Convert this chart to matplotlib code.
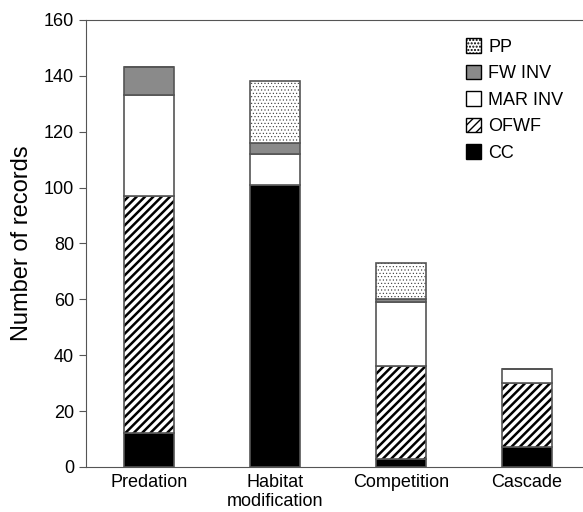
import numpy as np
import matplotlib.pyplot as plt
import matplotlib.patches as mpatches

plt.rcParams['font.family'] = ['Liberation Sans', 'DejaVu Sans']

# stacked counts per interaction type
categories = ['Predation', 'Habitat\nmodification', 'Competition', 'Cascade']
cc = [12, 101, 3, 7]
ofwf = [85, 0, 33, 23]
mar_inv = [36, 11, 23, 5]
fw_inv = [10, 4, 1, 0]
pp = [0, 22, 13, 0]

fig = plt.figure(figsize=(5.83, 5.12), dpi=100)
ax = fig.add_axes([0.1475, 0.088, 0.86, 0.873])

x = np.arange(len(categories))
w = 0.4
edge = '#555555'
bottom = np.zeros(len(categories))

# name, values, face, hatch, hatch colour, hatch linewidth
layers = [
    ('CC', cc, 'black', None, None, 1.0),
    ('OFWF', ofwf, 'white', '////', 'black', 1.8),
    ('MAR INV', mar_inv, 'white', None, None, 1.0),
    ('FW INV', fw_inv, '#8a8a8a', None, None, 1.0),
    ('PP', pp, 'white', '.....', '#333333', 0.4),
]
handles = []
for name, vals, col, hatch, hcol, hlw in layers:
    vals = np.array(vals, dtype=float)
    with plt.rc_context({'hatch.linewidth': hlw}):
        if hatch:
            # hatch in dark colour, outline drawn on top in grey
            ax.bar(x, vals, w, bottom=bottom, color=col, edgecolor=hcol,
                   linewidth=0, hatch=hatch)
            ax.bar(x, vals, w, bottom=bottom, fill=False, edgecolor=edge,
                   linewidth=1.2)
        else:
            ax.bar(x, vals, w, bottom=bottom, color=col, edgecolor=edge,
                   linewidth=1.2)
        handles.append(mpatches.Patch(facecolor=col, edgecolor='black',
                                      hatch=hatch, linewidth=1))
    bottom += vals

ax.set_xlim(-0.5, 3.48)
ax.set_ylim(0, 160)
ax.set_yticks(range(0, 161, 20))
ax.set_xticks(x)
ax.set_xticklabels(categories, fontsize=13)
ax.tick_params(axis='x', length=0, pad=5)
ax.tick_params(axis='y', labelsize=13, length=5, color='#555555')
ax.set_ylabel('Number of records', fontsize=17, labelpad=8)
ax.spines['right'].set_visible(False)
for s in ['left', 'top', 'bottom']:
    ax.spines[s].set_color('#555555')

leg = ax.legend(handles[::-1], [l[0] for l in layers][::-1], loc='upper right',
                frameon=False, fontsize=13, handlelength=0.85, handleheight=0.85,
                labelspacing=0.5, handletextpad=0.4,
                bbox_to_anchor=(0.985, 0.995))

fig.savefig('out.png', dpi=100)
